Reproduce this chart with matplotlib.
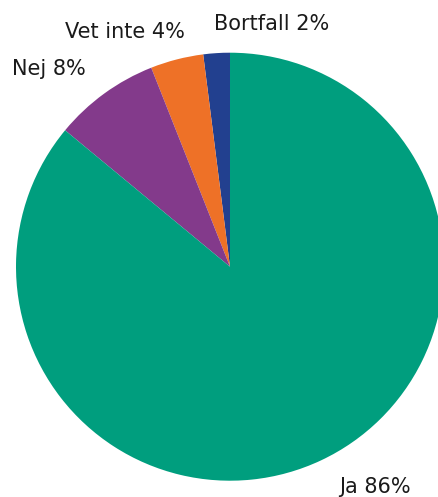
import matplotlib
matplotlib.use('Agg')
import matplotlib.pyplot as plt

# data, counter-clockwise from the top
labels = ['Bortfall', 'Vet inte', 'Nej', 'Ja']
values = [2, 4, 8, 86]
colors = ['#22408f', '#ee7127', '#833a8b', '#009e7e']

# label positions (data coords, unit circle)
label_pos = [(0.194, 1.134), (-0.493, 1.097), (-0.846, 0.924), (0.678, -1.029)]

fig = plt.figure(figsize=(4.39, 4.97), dpi=100)
ax = fig.add_axes([0, 0, 1, 1])

ax.pie(values, colors=colors, startangle=90, counterclock=True, radius=1.0)

for lab, val, (x, y) in zip(labels, values, label_pos):
    ax.text(x, y, f'{lab} {val}%', ha='center', va='center',
            fontsize=15, color='#1a1a1a', family='DejaVu Sans')

# pie center at pixel (230, 266.7), radius 214 px
ax.set_aspect('auto')
ax.set_xlim(-230 / 214, 209 / 214)
ax.set_ylim(-(497 - 266.7) / 214, 266.7 / 214)
ax.axis('off')

fig.savefig('out.png', dpi=100)
